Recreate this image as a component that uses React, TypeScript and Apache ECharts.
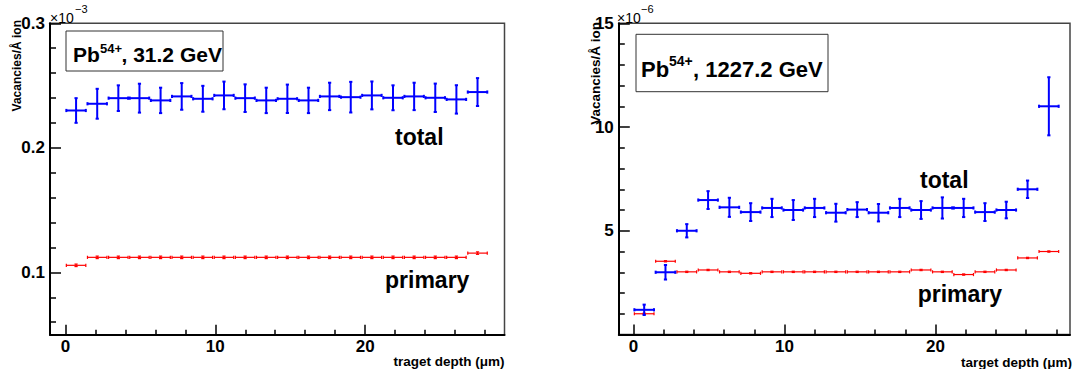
import React, { useEffect, useRef } from "react";
import * as echarts from "echarts";

// ---- data ----
const binCenters = [0.71, 2.12, 3.53, 4.94, 6.35, 7.76, 9.17, 10.58, 11.99, 13.4, 14.81, 16.22, 17.63, 19.04, 20.45, 21.86, 23.27, 24.68, 26.09, 27.5];
const binHalfWidth = 0.65;

// left panel (units of 1e-3 vacancies / Å ion), Pb54+ 31.2 GeV
const leftTotal = [0.23, 0.2354, 0.2399, 0.2399, 0.2381, 0.2413, 0.2394, 0.2421, 0.2399, 0.2381, 0.2394, 0.2381, 0.2413, 0.2407, 0.2421, 0.2402, 0.2413, 0.2402, 0.2389, 0.2448];
const leftTotalErr = [0.0099, 0.012, 0.0103, 0.0116, 0.0102, 0.0107, 0.0104, 0.0111, 0.0111, 0.0102, 0.0114, 0.0102, 0.011, 0.0123, 0.0112, 0.01, 0.011, 0.0114, 0.0114, 0.0112];
const leftPrimary = [0.1057, 0.1121, 0.1121, 0.1121, 0.1121, 0.1121, 0.1121, 0.1121, 0.1121, 0.1121, 0.1121, 0.1121, 0.1121, 0.1121, 0.1121, 0.1121, 0.1121, 0.1121, 0.1121, 0.1155];
const leftPrimaryErr = [0.001, 0.001, 0.001, 0.001, 0.001, 0.001, 0.001, 0.001, 0.001, 0.001, 0.001, 0.001, 0.001, 0.001, 0.001, 0.001, 0.001, 0.001, 0.001, 0.001];

// right panel (units of 1e-6 vacancies / Å ion), Pb54+ 1227.2 GeV
const rightTotal = [1.19, 3.0, 5.0, 6.48, 6.13, 5.9, 6.1, 6.0, 6.1, 5.87, 6.02, 5.87, 6.1, 6.0, 6.1, 6.1, 5.9, 6.0, 7.0, 11.0];
const rightTotalErr = [0.25, 0.35, 0.32, 0.43, 0.46, 0.43, 0.44, 0.48, 0.44, 0.43, 0.36, 0.42, 0.44, 0.43, 0.51, 0.44, 0.43, 0.4, 0.42, 1.4];
const rightPrimary = [1.0, 3.53, 3.02, 3.11, 3.02, 2.95, 3.02, 3.02, 3.02, 3.02, 3.02, 3.02, 3.02, 3.11, 3.02, 2.89, 3.02, 3.11, 3.69, 4.0];
const rightPrimaryErr = [0.03, 0.03, 0.03, 0.03, 0.03, 0.03, 0.03, 0.03, 0.03, 0.03, 0.03, 0.03, 0.03, 0.03, 0.03, 0.03, 0.03, 0.03, 0.03, 0.03];

// ticks
const xMajorTicks = [0, 10, 20];
const xMinorTicks = [2, 4, 6, 8, 12, 14, 16, 18, 22, 24, 26, 28];
const leftYMajor = [0.1, 0.2, 0.3];
const leftYMinor = [0.06, 0.08, 0.12, 0.14, 0.16, 0.18, 0.22, 0.24, 0.26, 0.28];
const rightYMajor = [5, 10, 15];
const rightYMinor = [1, 2, 3, 4, 6, 7, 8, 9, 11, 12, 13, 14];

const FONT = "'Liberation Sans', Arial, Helvetica, sans-serif";
const BLUE = "#0000ff";
const RED = "#ff0000";

function makeRenderer(color: string, lw: number, cap: number) {
  return (_params: any, api: any) => {
    const x = api.value(0) as number;
    const y = api.value(1) as number;
    const ex = api.value(2) as number;
    const ey = api.value(3) as number;
    const l = api.coord([x - ex, y]);
    const r = api.coord([x + ex, y]);
    const t = api.coord([x, y + ey]);
    const b = api.coord([x, y - ey]);
    const style = { stroke: color, lineWidth: lw, fill: null };
    const seg = (x1: number, y1: number, x2: number, y2: number) => ({
      type: "line",
      shape: { x1, y1, x2, y2 },
      style,
    });
    return {
      type: "group",
      children: [
        seg(l[0], l[1], r[0], r[1]),
        seg(t[0], t[1], b[0], b[1]),
        seg(l[0], l[1] - cap, l[0], l[1] + cap),
        seg(r[0], r[1] - cap, r[0], r[1] + cap),
        seg(t[0] - cap, t[1], t[0] + cap, t[1]),
        seg(b[0] - cap, b[1], b[0] + cap, b[1]),
      ],
    };
  };
}

function buildData(vals: number[], errs: number[]) {
  return binCenters.map((c, i) => [c, vals[i], binHalfWidth, errs[i]]);
}

function xAxes(gridIndex: number, min: number, max: number) {
  return [
    {
      type: "value",
      gridIndex,
      min,
      max,
      position: "bottom",
      axisLine: { show: true, onZero: false, lineStyle: { color: "#000", width: 2 } },
      axisTick: { show: true, inside: true, length: 10, customValues: xMajorTicks, lineStyle: { color: "#000", width: 1.5 } },
      axisLabel: {
        show: true,
        customValues: xMajorTicks,
        margin: 3,
        color: "#000",
        fontFamily: FONT,
        fontWeight: "bold",
        fontSize: 17,
        formatter: (v: number) => String(v),
      },
      splitLine: { show: false },
    },
    {
      type: "value",
      gridIndex,
      min,
      max,
      position: "bottom",
      axisLine: { show: false, onZero: false },
      axisTick: { show: true, inside: true, length: 5, customValues: xMinorTicks, lineStyle: { color: "#000", width: 1.5 } },
      axisLabel: { show: false },
      splitLine: { show: false },
    },
  ];
}

function yAxes(gridIndex: number, min: number, max: number, major: number[], minor: number[]) {
  return [
    {
      type: "value",
      gridIndex,
      min,
      max,
      position: "left",
      axisLine: { show: true, onZero: false, lineStyle: { color: "#000", width: 2 } },
      axisTick: { show: true, inside: true, length: 11, customValues: major, lineStyle: { color: "#000", width: 1.5 } },
      axisLabel: {
        show: true,
        customValues: major,
        margin: 5,
        color: "#000",
        fontFamily: FONT,
        fontWeight: "bold",
        fontSize: 17,
        formatter: (v: number) => String(v),
      },
      splitLine: { show: false },
    },
    {
      type: "value",
      gridIndex,
      min,
      max,
      position: "left",
      axisLine: { show: false, onZero: false },
      axisTick: { show: true, inside: true, length: 6, customValues: minor, lineStyle: { color: "#000", width: 1.5 } },
      axisLabel: { show: false },
      splitLine: { show: false },
    },
  ];
}

function txt(x: number, y: number, text: string, size: number, opts: any = {}) {
  return {
    type: "text",
    x,
    y,
    silent: true,
    rotation: opts.rotation || 0,
    style: {
      text,
      fill: "#000",
      fontFamily: FONT,
      fontSize: size,
      fontWeight: opts.weight || "bold",
      align: opts.align || "left",
      verticalAlign: opts.va || "middle",
    },
  };
}

export default function App() {
  const ref = useRef<HTMLDivElement>(null);
  useEffect(() => {
    if (!ref.current) return;
    const chart = echarts.init(ref.current, undefined, { renderer: "svg" });
    const option: any = {
      animation: false,
      backgroundColor: "#fff",
      grid: [
        { left: 50, top: 23.3, width: 454.5, height: 311.4, show: true, borderColor: "#444", borderWidth: 1.5, outerBoundsMode: "none" },
        { left: 618.8, top: 23.3, width: 451.2, height: 311.2, show: true, borderColor: "#444", borderWidth: 1.5, outerBoundsMode: "none" },
      ],
      xAxis: [...xAxes(0, -1.03, 29.3), ...xAxes(1, -0.97, 28.9)],
      yAxis: [
        ...yAxes(0, 0.05, 0.3, leftYMajor, leftYMinor),
        ...yAxes(1, 0, 15, rightYMajor, rightYMinor),
      ],
      series: [
        {
          type: "custom",
          name: "primary",
          xAxisIndex: 0,
          yAxisIndex: 0,
          renderItem: makeRenderer(RED, 1.2, 1.6),
          data: buildData(leftPrimary, leftPrimaryErr),
        },
        {
          type: "custom",
          name: "total",
          xAxisIndex: 0,
          yAxisIndex: 0,
          renderItem: makeRenderer(BLUE, 2, 1.6),
          data: buildData(leftTotal, leftTotalErr),
        },
        {
          type: "custom",
          name: "primary",
          xAxisIndex: 2,
          yAxisIndex: 2,
          renderItem: makeRenderer(RED, 1.2, 1.6),
          data: buildData(rightPrimary, rightPrimaryErr),
        },
        {
          type: "custom",
          name: "total",
          xAxisIndex: 2,
          yAxisIndex: 2,
          renderItem: makeRenderer(BLUE, 2, 1.6),
          data: buildData(rightTotal, rightTotalErr),
        },
      ],
      graphic: [
        // legend boxes
        { type: "rect", silent: true, shape: { x: 66, y: 31, width: 157, height: 40 }, style: { fill: "#fff", stroke: "#333", lineWidth: 1 } },
        txt(73, 54.2, "Pb", 21),
        txt(100, 48, "54+", 13),
        txt(121.5, 54.2, ", 31.2 GeV", 21),
        { type: "rect", silent: true, shape: { x: 636, y: 34.3, width: 192, height: 57.4 }, style: { fill: "#fff", stroke: "#333", lineWidth: 1 } },
        txt(641, 69.2, "Pb", 22),
        txt(669, 61, "54+", 14),
        txt(693, 69.2, ", 1227.2 GeV", 22),
        // curve labels
        txt(395, 136.8, "total", 23),
        txt(385, 280.3, "primary", 23),
        txt(920, 180.1, "total", 23),
        txt(917.7, 293.8, "primary", 23),
        // exponents
        txt(50, 18, "\u00d710", 14, { weight: "normal" }),
        txt(75, 8.5, "\u22123", 11, { weight: "normal" }),
        txt(617, 18, "\u00d710", 14, { weight: "normal" }),
        txt(641, 8.5, "\u22126", 11, { weight: "normal" }),
        // axis titles
        txt(504.5, 361, "traget depth (\u03bcm)", 13.5, { align: "right" }),
        txt(1072, 362, "target depth (\u03bcm)", 13.5, { align: "right" }),
        txt(17, 20, "Vacancies/\u00c5 ion", 12, { align: "right", rotation: Math.PI / 2 }),
        txt(595, 22, "Vacancies/\u00c5 ion", 13.5, { align: "right", rotation: Math.PI / 2 }),
      ],
    };
    chart.setOption(option);
    return () => chart.dispose();
  }, []);
  return (
    <div
      ref={ref}
      style={{ position: "fixed", left: 0, top: 0, width: 1077, height: 369, background: "#fff" }}
    />
  );
}
